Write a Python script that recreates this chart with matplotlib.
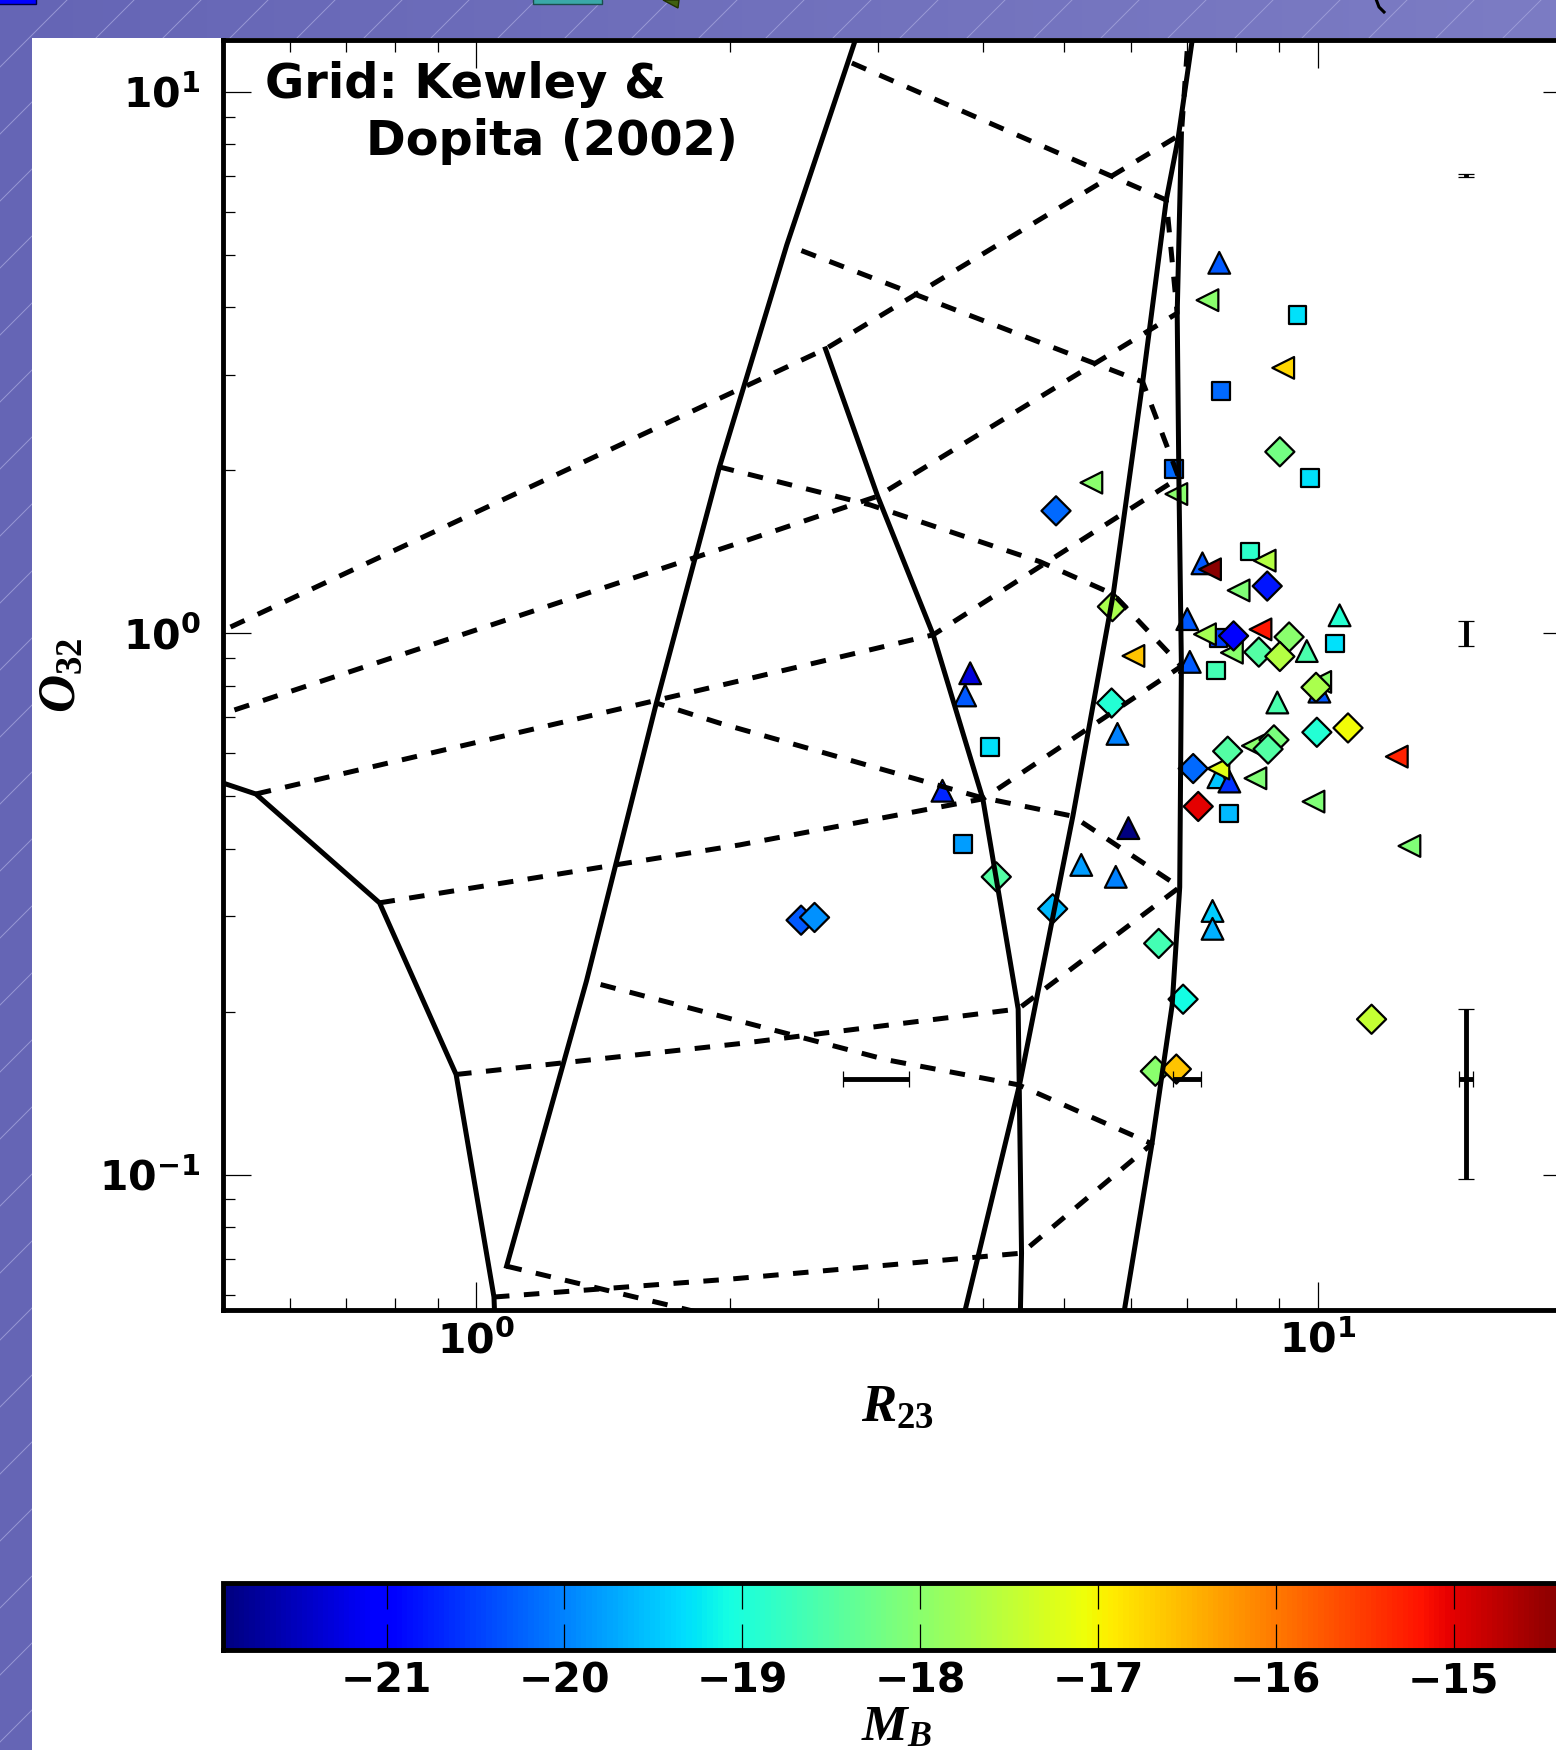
import numpy as np
import matplotlib
matplotlib.use('Agg')
import matplotlib.pyplot as plt
from matplotlib.patches import Rectangle, Polygon
from matplotlib.colors import LinearSegmentedColormap

plt.rcParams['font.family'] = ['DejaVu Sans']
plt.rcParams['font.weight'] = 'bold'
plt.rcParams['mathtext.fontset'] = 'custom'
plt.rcParams['mathtext.it'] = 'Liberation Serif:italic:bold'
plt.rcParams['mathtext.rm'] = 'Liberation Serif:bold'
plt.rcParams['mathtext.bf'] = 'Liberation Serif:bold'

# --- Kewley & Dopita (2002) grid, log10(R23) / log10(O32) ---
# solid: constant metallicity
zA_lr = [-0.389, -0.262, -0.115, -0.024, 0.021, 0.023]
zA_lo = [-0.231, -0.297, -0.498, -0.815, -1.226, -1.305]
zB_lr = [0.036, 0.131, 0.214, 0.289, 0.369, 0.442, 0.507]
zB_lo = [-1.169, -0.642, -0.129, 0.307, 0.717, 1.056, 1.360]
zC_lr = [0.415, 0.477, 0.543, 0.602, 0.644, 0.648, 0.646]
zC_lo = [0.525, 0.253, -0.003, -0.306, -0.694, -1.145, -1.305]
zD_lr = [0.569, 0.581, 0.646, 0.709, 0.757, 0.792, 0.820, 0.834, 0.851, 0.857]
zD_lo = [-1.324, -1.250, -0.831, -0.338, 0.072, 0.464, 0.800, 0.913, 1.097, 1.169]
zE_lr = [0.838, 0.833, 0.835, 0.838, 0.836, 0.827, 0.803, 0.771, 0.765]
zE_lo = [0.922, 0.591, 0.287, -0.061, -0.469, -0.687, -0.943, -1.243, -1.305]

# dashed: constant ionisation parameter
q1_lr = [-0.389, 0.415, 0.838, 0.854]
q1_lo = [-0.059, 0.525, 0.922, 1.280]
q2_lr = [-0.389, 0.311, 0.477, 0.833, 0.820, 0.442]
q2_lo = [-0.194, 0.166, 0.253, 0.591, 0.800, 1.056]
q3_lr = [-0.262, 0.313, 0.543, 0.835, 0.792, 0.369]
q3_lo = [-0.297, -0.088, -0.003, 0.287, 0.464, 0.717]
q4_lr = [-0.115, 0.313, 0.602, 0.838, 0.757, 0.670, 0.468, 0.289]
q4_lo = [-0.498, -0.391, -0.306, -0.061, 0.072, 0.132, 0.237, 0.307]
q5_lr = [-0.024, 0.313, 0.644, 0.836, 0.709, 0.599, 0.289, 0.214]
q5_lo = [-0.815, -0.758, -0.694, -0.469, -0.338, -0.303, -0.166, -0.129]
q6_lr = [0.021, 0.301, 0.648, 0.803, 0.644, 0.488, 0.307, 0.131]
q6_lo = [-1.226, -1.193, -1.145, -0.943, -0.834, -0.788, -0.714, -0.642]
q7_lr = [0.036, 0.242, 0.384]
q7_lo = [-1.169, -1.246, -1.300]

# --- galaxies: log10(R23), log10(O32), M_B ---
tri_lr = [0.883, 0.863, 1.026, 0.845, 0.848, 0.987, 1.002, 0.952, 0.762, 0.882,
          0.895, 0.775, 0.719, 0.760, 0.875, 0.875, 0.587, 0.581, 0.554]
tri_lo = [0.684, 0.129, 0.033, 0.026, -0.053, -0.033, -0.108, -0.128, -0.186, -0.266,
          -0.274, -0.360, -0.428, -0.450, -0.513, -0.546, -0.074, -0.115, -0.291]
tri_mb = [-20.3, -20.3, -18.9, -20.3, -20.3, -18.6, -20.3, -18.6, -20.0, -19.5,
          -20.6, -21.9, -19.8, -20.0, -19.45, -19.65, -21.3, -20.3, -20.7]

sq_lr = [0.976, 0.885, 0.991, 0.829, 0.920, 0.882, 1.021, 0.879, 0.895, 0.611, 0.578]
sq_lo = [0.588, 0.447, 0.286, 0.303, 0.151, -0.009, -0.019, -0.069, -0.333, -0.210, -0.390]
sq_mb = [-19.3, -20.2, -19.3, -20.2, -18.85, -20.5, -19.3, -18.65, -19.6, -19.3, -19.8]

ltri_lr = [0.869, 0.959, 0.731, 0.832, 0.937, 0.872, 0.906, 0.932, 0.866, 0.781,
           0.898, 1.003, 0.923, 1.094, 0.882, 0.926, 0.995, 1.109]
ltri_lo = [0.615, 0.490, 0.278, 0.257, 0.134, 0.118, 0.079, 0.007, -0.002, -0.042,
           -0.036, -0.090, -0.208, -0.228, -0.250, -0.268, -0.311, -0.393]
ltri_mb = [-18.0, -16.75, -18.0, -18.0, -17.6, -14.4, -18.1, -15.2, -17.75, -16.6,
           -18.0, -18.0, -18.0, -15.3, -17.2, -18.1, -18.1, -18.1]

dia_lr = [0.955, 0.689, 0.940, 0.756, 0.900, 0.966, 0.930, 0.955, 0.998, 0.755,
          0.999, 1.036, 0.948, 0.941, 0.893, 0.852, 0.858, 0.618, 0.685, 0.386,
          0.402, 0.811, 0.840, 1.064, 0.807, 0.832]
dia_lo = [0.335, 0.226, 0.087, 0.049, -0.005, -0.007, -0.035, -0.043, -0.100, -0.129,
          -0.183, -0.175, -0.197, -0.214, -0.218, -0.250, -0.320, -0.450, -0.509, -0.530,
          -0.525, -0.573, -0.676, -0.713, -0.809, -0.805]
dia_mb = [-18.2, -20.2, -20.8, -17.7, -21.0, -18.0, -18.5, -17.6, -17.7, -18.95,
          -18.95, -17.05, -18.15, -18.5, -18.5, -20.2, -15.0, -18.5, -19.6, -20.3,
          -19.9, -18.65, -19.1, -17.45, -18.0, -16.6]

# typical errors
err_r = [3.0, 7.0, 15.0, 15.0, 15.0]
err_o = [0.15, 0.15, 0.15, 1.0, 7.0]
err_dr = [0.27, 0.265, 0.28, 0.0, 0.0]
err_do = [0.0, 0.0, 0.052, 0.053, 0.05]

mb_min, mb_max = -21.92, -14.34

fig = plt.figure(figsize=(15.56, 17.5), dpi=100)

# slide background
bg = fig.add_axes([0, 0, 1, 1], zorder=-10)
bg.set_xlim(0, 1556)
bg.set_ylim(1750, 0)
bg.axis('off')
grad = LinearSegmentedColormap.from_list('slide', ['#6565b5', '#7c7cc4'])
bg.imshow(np.linspace(0, 1, 256)[None, :], extent=[0, 1556, 1750, 0], cmap=grad, aspect='auto')
for x0 in np.arange(-1750, 1600, 67):
    bg.plot([x0, x0 + 1750], [1750, 0], color='#a4a4dc', lw=0.7, alpha=0.8)
bg.add_patch(Rectangle((32, 38), 1530, 1720, facecolor='white', edgecolor='none', zorder=5))
# cut-off bits of the slide title above
bg.add_patch(Rectangle((-2, -5), 38, 9, facecolor='#0000ff', edgecolor='#000040', lw=1, zorder=6))
bg.add_patch(Rectangle((533, -5), 69, 8.5, facecolor='#3aa8a8', edgecolor='#1c4c4c', lw=1, zorder=6))
bg.add_patch(Polygon([(663, 0), (679, 0), (678, 8)], facecolor='#406010', edgecolor='#203000', lw=1, zorder=6))
bg.plot([1376, 1379, 1384], [-1, 7, 12], color='black', lw=2.2, zorder=6)

ax = fig.add_axes([0.14332, 0.25143, 0.86632, 0.72571])
ax.set_xscale('log')
ax.set_yscale('log')

mk = dict(cmap='jet', vmin=mb_min, vmax=mb_max, edgecolors='black', linewidths=1.6, zorder=2)
sc = ax.scatter(10 ** np.array(tri_lr), 10 ** np.array(tri_lo), c=tri_mb, marker='^', s=245, **mk)
ax.scatter(10 ** np.array(sq_lr), 10 ** np.array(sq_lo), c=sq_mb, marker='s', s=165, **mk)
ax.scatter(10 ** np.array(ltri_lr), 10 ** np.array(ltri_lo), c=ltri_mb, marker='<', s=245, **mk)
ax.scatter(10 ** np.array(dia_lr), 10 ** np.array(dia_lo), c=dia_mb, marker='D', s=220, **mk)

for lr, lo in [(zA_lr, zA_lo), (zB_lr, zB_lo), (zC_lr, zC_lo), (zD_lr, zD_lo), (zE_lr, zE_lo)]:
    ax.plot(10 ** np.array(lr), 10 ** np.array(lo), color='black', lw=3.6, zorder=3)
for lr, lo in [(q1_lr, q1_lo), (q2_lr, q2_lo), (q3_lr, q3_lo), (q4_lr, q4_lo),
               (q5_lr, q5_lo), (q6_lr, q6_lo), (q7_lr, q7_lo)]:
    ax.plot(10 ** np.array(lr), 10 ** np.array(lo), color='black', lw=3.6,
            ls=(0, (3.1, 2.9)), dash_capstyle='butt', zorder=3)

for r, o, dr, do in zip(err_r, err_o, err_dr, err_do):
    ax.errorbar(r, o, xerr=dr if dr > 0 else None, yerr=do if do > 0 else None,
                fmt='none', ecolor='black', elinewidth=3.5, capsize=6, capthick=0.9, zorder=4)

ax.set_xlim(0.5, 20)
ax.set_ylim(0.05624, 12.46)
for sp in ax.spines.values():
    sp.set_linewidth(3.5)
ax.tick_params(which='both', direction='in', top=True, right=True, width=0.9)
ax.tick_params(which='major', length=20, labelsize=29.5)
ax.tick_params(which='minor', length=8.6)
ax.tick_params(axis='y', which='major', pad=16)
ax.tick_params(axis='x', which='major', pad=8)

ax.text(0.0309, 0.9541, 'Grid: Kewley &', transform=ax.transAxes, fontsize=34.5,
        fontweight='bold', ha='left', va='baseline')
ax.text(0.1063, 0.9094, 'Dopita (2002)', transform=ax.transAxes, fontsize=34.5,
        fontweight='bold', ha='left', va='baseline')

ax.set_xlabel(r'$R_{23}$', fontsize=38)
ax.set_ylabel(r'$O_{32}$', fontsize=38)
ax.xaxis.set_label_coords(0.5, -0.055)
ax.yaxis.set_label_coords(-0.102, 0.5)

cax = fig.add_axes([0.14332, 0.05714, 0.86632, 0.03829])
cb = fig.colorbar(sc, cax=cax, orientation='horizontal')
cb.outline.set_linewidth(3.5)
cb.set_ticks([-21, -20, -19, -18, -17, -16, -15])
cax.tick_params(direction='in', length=19, width=0.9, top=True, bottom=True,
                labelsize=29.5, pad=8)
cb.set_label(r'$M_B$', fontsize=37)
cax.xaxis.set_label_coords(0.5, -0.76)

fig.savefig('out.png', dpi=100)
